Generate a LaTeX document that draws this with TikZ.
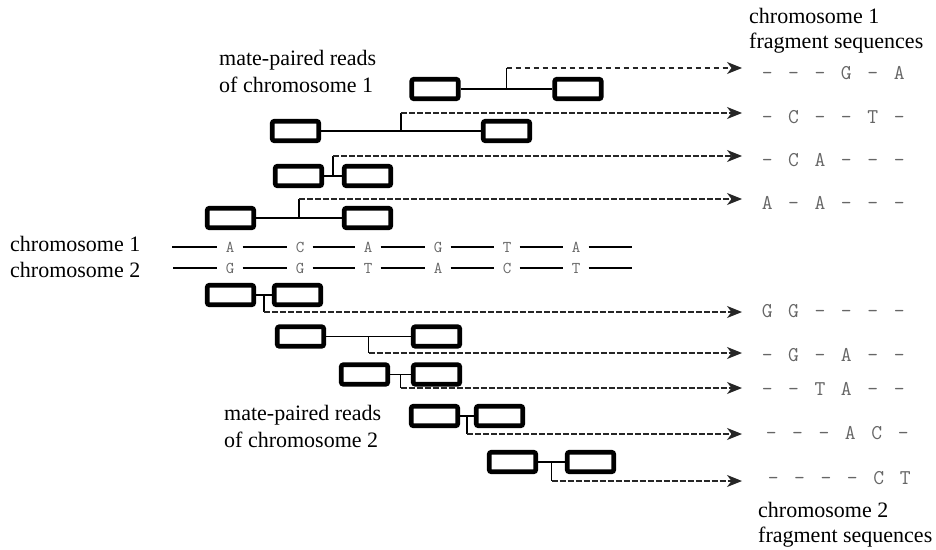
\documentclass[tikz,border=0pt]{standalone}
\usepackage{fontspec}
\setmainfont{Liberation Serif}
\usetikzlibrary{arrows.meta,calc}
\newcommand{\matepair}[6]{%
  \node[rd] (#1a) at (#2,#4) {};
  \node[rd] (#1b) at (#3,#4) {};
  \draw[link] (#1a) -- (#1b);
  \coordinate (#1t) at ($(#1a.east)!.5!(#1b.west)$);
  \coordinate (#1y) at (742,#5);
  \coordinate (#1u) at (#1t |- #1y);
  \draw[link] (#1t) -- (#1u);
  \draw[#6] (#1u) -- (#1y);
}
\newcommand{\sq}[1]{\makebox[26.4pt]{#1}}
\newcommand{\sqrow}[6]{\sq{#1}\sq{#2}\sq{#3}\sq{#4}\sq{#5}\sq{#6}}
\begin{document}
\begin{tikzpicture}[x=1pt,y=-1pt,
  rd/.style={draw=black,line width=4.6pt,rounded corners=2pt,minimum width=46.5pt,minimum height=19.5pt,inner sep=0pt,fill=white},
  link/.style={line width=1.3pt,draw=black},
  flow/.style={line width=1.3pt,draw=black!85,dash pattern=on 6pt off 2pt,-{Stealth[length=15pt,width=12pt,inset=4.5pt]}},
  flowA/.style={flow,dash pattern=on 5pt off 4pt},
  lab/.style={font=\fontsize{22}{26}\selectfont,anchor=base west,inner sep=0pt,text=black},
  nucl/.style={font=\ttfamily\fontsize{16.5}{20}\selectfont,text=black!60,minimum width=25pt,inner sep=0pt,text height=10pt,text depth=0pt},
  seq/.style={font=\ttfamily\fontsize{21}{26}\selectfont,text=black!60,anchor=base west,inner sep=0pt},
  chr/.style={line width=1.3pt,draw=black}]
\useasboundingbox (0,0) rectangle (936,549);

% labels
\node[lab] (m1a) at (219,65) {mate-paired reads};
\node[lab] (m1b) at (219,92) {of chromosome 1};
\node[lab] (m2a) at (224,420) {mate-paired reads};
\node[lab] (m2b) at (224,447) {of chromosome 2};
\node[lab] (ch1) at (10,251) {chromosome 1};
\node[lab] (ch2) at (10,277) {chromosome 2};
\node[lab] (f1a) at (749,23) {chromosome 1};
\node[lab] (f1b) at (749,48) {fragment sequences};
\node[lab] (f2a) at (758,517) {chromosome 2};
\node[lab] (f2b) at (758,542) {fragment sequences};

% chromosomes
\coordinate (c1s) at (172,247); \coordinate (c1e) at (632,247);
\node[nucl] (c1n1) at (230,247) {A};
\node[nucl] (c1n2) at (300,247) {C};
\node[nucl] (c1n3) at (368,247) {A};
\node[nucl] (c1n4) at (438,247) {G};
\node[nucl] (c1n5) at (507,247) {T};
\node[nucl] (c1n6) at (576,247) {A};
\draw[chr] (c1s) -- (c1n1) -- (c1n2) -- (c1n3) -- (c1n4) -- (c1n5) -- (c1n6) -- (c1e);
\coordinate (c2s) at (173,268); \coordinate (c2e) at (632,268);
\node[nucl] (c2n1) at (230,268) {G};
\node[nucl] (c2n2) at (300,268) {G};
\node[nucl] (c2n3) at (368,268) {T};
\node[nucl] (c2n4) at (438,268) {A};
\node[nucl] (c2n5) at (507,268) {C};
\node[nucl] (c2n6) at (576,268) {T};
\draw[chr] (c2s) -- (c2n1) -- (c2n2) -- (c2n3) -- (c2n4) -- (c2n5) -- (c2n6) -- (c2e);

% mate pairs
\matepair{r1}{435}{578}{89}{68}{flowA}
\matepair{r2}{295.5}{506.5}{131}{113}{flow}
\matepair{r3}{298.5}{367.5}{176}{156}{flow}
\matepair{r4}{230.5}{367.5}{218}{199}{flow}
\matepair{r5}{230.5}{297.5}{295}{312}{flow}
\matepair{r6}{300.5}{436.5}{336.5}{353}{flow}
\matepair{r7}{364.5}{436.5}{374.5}{388}{flow}
\matepair{r8}{434.5}{499.5}{416}{434}{flow}
\matepair{r9}{512.5}{590.5}{462}{481}{flow}

% fragment sequences
\node[seq] (s1) at (753.8,79) {\sqrow{–}{–}{–}{G}{–}{A}};
\node[seq] (s2) at (753.8,123) {\sqrow{–}{C}{–}{–}{T}{–}};
\node[seq] (s3) at (753.8,166) {\sqrow{–}{C}{A}{–}{–}{–}};
\node[seq] (s4) at (753.8,209) {\sqrow{A}{–}{A}{–}{–}{–}};
\node[seq] (s5) at (753.8,317) {\sqrow{G}{G}{–}{–}{–}{–}};
\node[seq] (s6) at (753.8,361) {\sqrow{–}{G}{–}{A}{–}{–}};
\node[seq] (s7) at (753.8,395) {\sqrow{–}{–}{T}{A}{–}{–}};
\node[seq] (s8) at (757.8,439) {\sqrow{–}{–}{–}{A}{C}{–}};
\node[seq] (s9) at (759.8,484) {\sqrow{–}{–}{–}{–}{C}{T}};
\end{tikzpicture}
\end{document}
